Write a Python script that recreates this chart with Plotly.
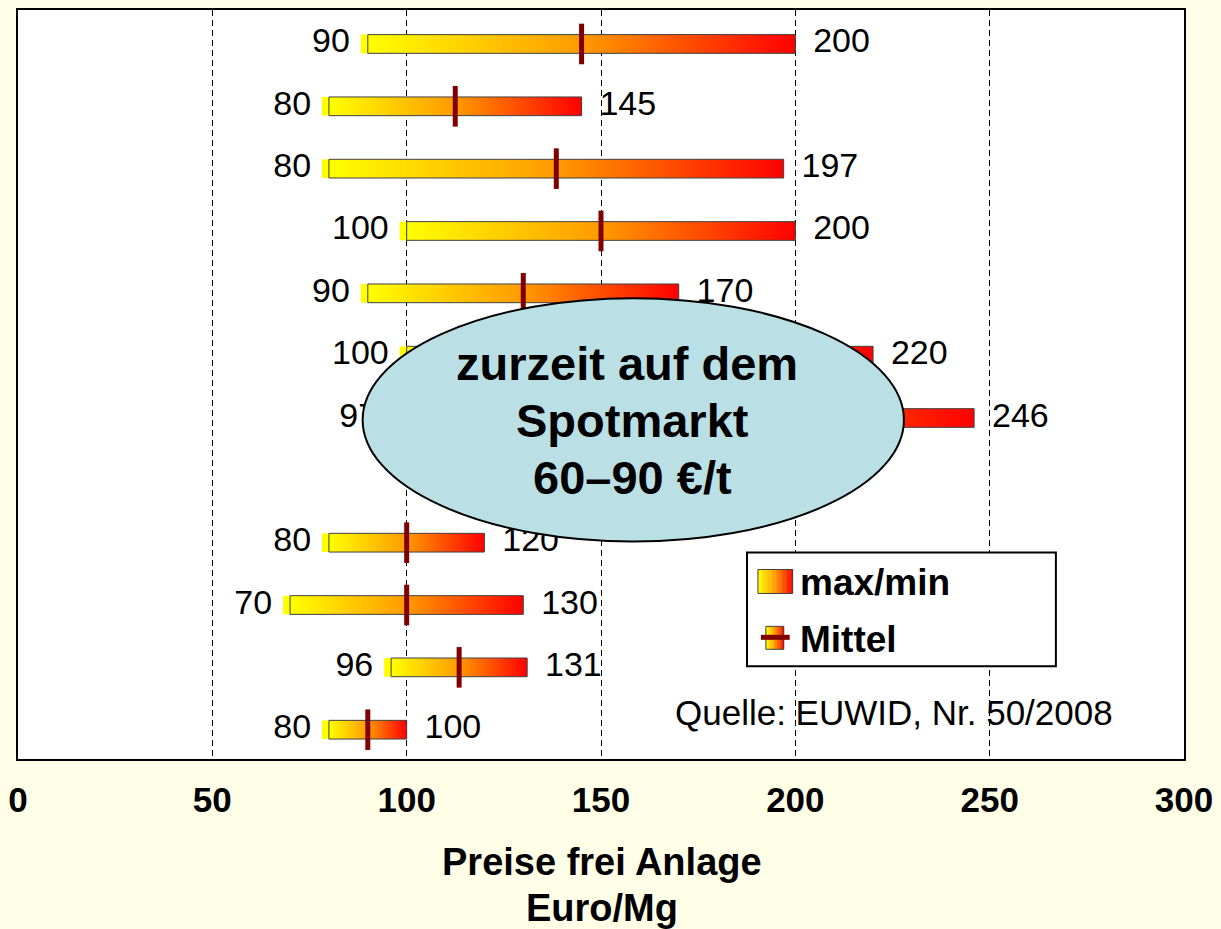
import plotly.graph_objects as go

# ---- data (top row first); row 8 is hidden behind the callout ----
rows = list(range(12))
min_vals = [90, 80, 80, 100, 90, 100, 97, None, 80, 70, 96, 80]
max_vals = [200, 145, 197, 200, 170, 220, 246, None, 120, 130, 131, 100]
mean_vals = [145, 112.5, 138.5, 150, 130, 160, 170, None, 100, 100, 113.5, 90]
tick_vals = [0, 50, 100, 150, 200, 250, 300]

FONT = "Liberation Sans, Arial, sans-serif"
W, H = 1221, 929
ML, MR, MT, MB = 14, 33, 8, 170
PW = W - ML - MR
PH = H - MT - MB
UNIT = PW / 300.0  # px per x-unit


def px(x):
    return (x - ML) / PW


def py(y):
    return (H - MB - y) / PH


GRAD = [[0, "#FFFF00"], [0.5, "#FF9A00"], [1, "#FF0000"]]
HALF = 0.15

fig = go.Figure()

for r, lo, hi in zip(rows, min_vals, max_vals):
    if lo is None:
        continue
    e = 1.8
    fig.add_trace(go.Scatter(
        x=[lo - e, lo, lo, lo - e, lo - e],
        y=[r - HALF, r - HALF, r + HALF, r + HALF, r - HALF],
        mode="lines", fill="toself", fillcolor="#FFFF00",
        line=dict(width=0, color="#FFFF00"), hoverinfo="skip", showlegend=False))
    fig.add_trace(go.Scatter(
        x=[lo, hi, hi, lo, lo],
        y=[r - HALF, r - HALF, r + HALF, r + HALF, r - HALF],
        mode="lines", fill="toself",
        fillgradient=dict(type="horizontal", colorscale=GRAD),
        line=dict(width=1, color="#404040"), hoverinfo="skip", showlegend=False))

# mean markers
mx = [m for m in mean_vals if m is not None]
my = [r for r, m in zip(rows, mean_vals) if m is not None]
fig.add_trace(go.Scatter(
    x=mx, y=my, mode="markers",
    marker=dict(symbol="line-ns", size=29, line=dict(width=5, color="#800000"), color="#800000"),
    hoverinfo="skip", showlegend=False))

# value labels
lab_off = 18 / UNIT
lx = [v - lab_off for v in min_vals if v is not None]
ly = [r for r, v in zip(rows, min_vals) if v is not None]
fig.add_trace(go.Scatter(
    x=lx, y=ly, mode="text", text=[str(v) for v in min_vals if v is not None],
    textposition="middle left", textfont=dict(family=FONT, size=34, color="black"),
    hoverinfo="skip", showlegend=False))
rx = [v + lab_off for v in max_vals if v is not None]
ry = [r for r, v in zip(rows, max_vals) if v is not None]
fig.add_trace(go.Scatter(
    x=rx, y=ry, mode="text", text=[str(v) for v in max_vals if v is not None],
    textposition="middle right", textfont=dict(family=FONT, size=34, color="black"),
    hoverinfo="skip", showlegend=False))

shapes = []
annotations = []


def note(x, y, text, size, bold=False, xanchor="center"):
    f = dict(family=FONT, size=size, color="black")
    if bold:
        f["weight"] = "bold"
    annotations.append(dict(xref="paper", yref="paper", x=px(x), y=py(y), text=text,
                            showarrow=False, xanchor=xanchor, yanchor="middle", font=f))


# callout ellipse
shapes.append(dict(type="circle", xref="paper", yref="paper",
                   x0=px(361), x1=px(906), y0=py(541), y1=py(297),
                   fillcolor="#BAE0E5", line=dict(color="black", width=2), layer="above"))
note(627, 362, "zurzeit auf dem", 47, bold=True)
note(633, 420, "Spotmarkt", 47, bold=True)
note(633, 477, "60–90 €/t", 47, bold=True)

# legend box
shapes.append(dict(type="rect", xref="paper", yref="paper",
                   x0=px(748), x1=px(1059), y0=py(666), y1=py(552),
                   fillcolor="white", line=dict(color="black", width=2), layer="above"))


def grad_rect(x0, x1, y0, y1, n=14):
    from plotly.colors import sample_colorscale
    out = []
    cols = sample_colorscale(GRAD, [(i + 0.5) / n for i in range(n)])
    for i in range(n):
        a = x0 + (x1 - x0) * i / n
        b = x0 + (x1 - x0) * (i + 1) / n
        out.append(dict(type="rect", xref="paper", yref="paper",
                        x0=px(a), x1=px(b + 0.3), y0=py(y1), y1=py(y0),
                        fillcolor=cols[i], line=dict(width=0), layer="above"))
    out.append(dict(type="rect", xref="paper", yref="paper",
                    x0=px(x0), x1=px(x1), y0=py(y1), y1=py(y0),
                    fillcolor="rgba(0,0,0,0)", line=dict(color="#404040", width=1), layer="above"))
    return out


shapes += grad_rect(759, 794, 569, 593)
shapes += grad_rect(767, 785, 626, 649, n=8)
shapes.append(dict(type="line", xref="paper", yref="paper",
                   x0=px(762), x1=px(791), y0=py(637), y1=py(637),
                   line=dict(color="#800000", width=5), layer="above"))
note(799, 582, "max/min", 37, bold=True, xanchor="left")
note(799, 639, "Mittel", 37, bold=True, xanchor="left")

# source
note(673, 712, "Quelle: EUWID, Nr. 50/2008", 35, xanchor="left")

# axis title
note(602, 862, "Preise frei Anlage", 38, bold=True)
note(602, 908, "Euro/Mg", 38, bold=True)

fig.update_layout(
    width=W, height=H,
    margin=dict(l=ML, r=MR, t=MT, b=MB),
    paper_bgcolor="#FFFFE8", plot_bgcolor="white",
    showlegend=False,
    shapes=shapes, annotations=annotations,
    xaxis=dict(range=[0, 300], tickvals=tick_vals, ticktext=[str(t) for t in tick_vals],
               showgrid=True, gridcolor="black", gridwidth=1, griddash="6px,4px",
               zeroline=False, showline=True, linecolor="black", linewidth=2, mirror=True,
               ticks="", ticklabelstandoff=9,
               tickfont=dict(family=FONT, size=35, color="black", weight="bold")),
    yaxis=dict(range=[11.47, -0.545], showgrid=False, zeroline=False, showticklabels=False,
               showline=True, linecolor="black", linewidth=2, mirror=True, ticks=""),
)

fig.write_html("out.html", config={"displayModeBar": False},
               post_script="document.body.style.margin='0';document.body.style.overflow='hidden';")
